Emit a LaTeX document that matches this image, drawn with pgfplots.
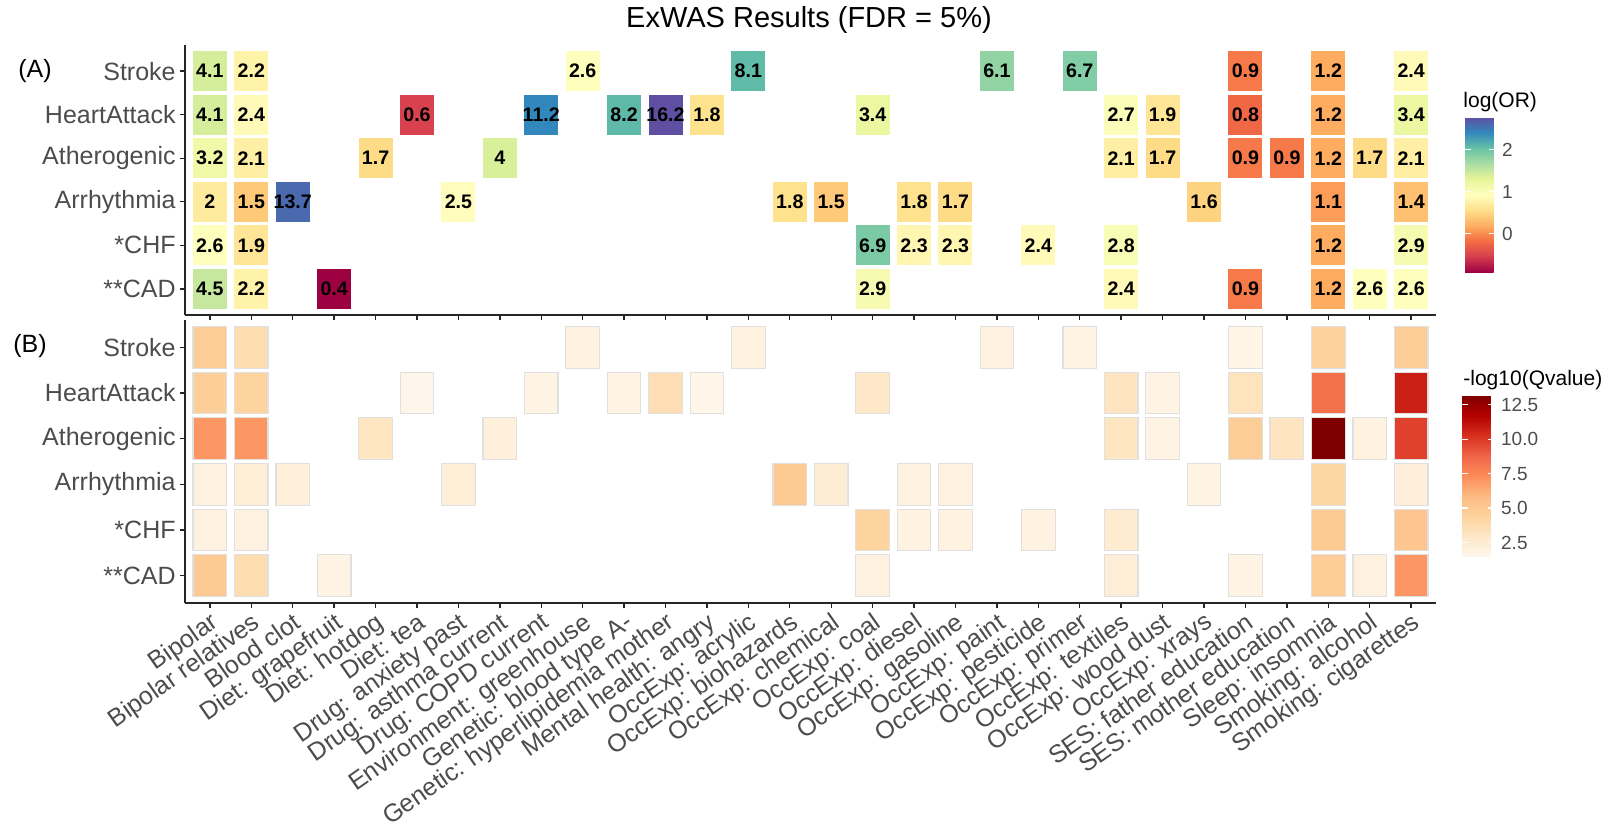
\documentclass[border=0pt]{standalone}
\usepackage{fontspec}
\setmainfont{Liberation Sans}
\usepackage{pgfplots}
\pgfplotsset{compat=1.18}
\usepackage{pgfplotstable}

\pgfdeclareplotmark{tileA}{\pgfpathrectangle{\pgfqpoint{-8.5pt}{-10pt}}{\pgfqpoint{17pt}{20pt}}\pgfusepath{fill}}
\pgfdeclareplotmark{tileB}{\pgfpathrectangle{\pgfqpoint{-8.4pt}{-10.4pt}}{\pgfqpoint{16.8pt}{20.8pt}}\pgfusepath{fill,stroke}}

\pgfplotsset{
  colormap={spec}{rgb255=(158,1,66) rgb255=(213,62,79) rgb255=(244,109,67) rgb255=(253,174,97) rgb255=(254,224,139) rgb255=(255,255,191) rgb255=(230,245,152) rgb255=(171,221,164) rgb255=(102,194,165) rgb255=(50,136,189) rgb255=(94,79,162)},
  colormap={orrd}{rgb255=(255,247,236) rgb255=(254,232,200) rgb255=(253,212,158) rgb255=(253,187,132) rgb255=(252,141,89) rgb255=(239,101,72) rgb255=(215,48,31) rgb255=(179,0,0) rgb255=(127,0,0)},
}

% Panel A: odds ratios (x = exposure index, y = outcome index; 0 = **CAD ... 5 = Stroke)
\pgfplotstableread{
x y or
0 5 4.1
1 5 2.2
9 5 2.6
13 5 8.1
19 5 6.1
21 5 6.7
25 5 0.9
27 5 1.2
29 5 2.4
0 4 4.1
1 4 2.4
5 4 0.6
8 4 11.2
10 4 8.2
11 4 16.2
12 4 1.8
16 4 3.4
22 4 2.7
23 4 1.9
25 4 0.8
27 4 1.2
29 4 3.4
0 3 3.2
1 3 2.1
4 3 1.7
7 3 4
22 3 2.1
23 3 1.7
25 3 0.9
26 3 0.9
27 3 1.2
28 3 1.7
29 3 2.1
0 2 2
1 2 1.5
2 2 13.7
6 2 2.5
14 2 1.8
15 2 1.5
17 2 1.8
18 2 1.7
24 2 1.6
27 2 1.1
29 2 1.4
0 1 2.6
1 1 1.9
16 1 6.9
17 1 2.3
18 1 2.3
20 1 2.4
22 1 2.8
27 1 1.2
29 1 2.9
0 0 4.5
1 0 2.2
3 0 0.4
16 0 2.9
22 0 2.4
25 0 0.9
27 0 1.2
28 0 2.6
29 0 2.6
}\dataA
\pgfplotstablecreatecol[create col/expr={ln(\thisrow{or})}]{lor}\dataA

% Panel B: -log10(Qvalue)
\pgfplotstableread{
x y q
0 5 4.8
1 5 3.8
9 5 1.9
13 5 1.9
19 5 1.9
21 5 1.8
25 5 1.7
27 5 4.5
29 5 4.8
0 4 4.7
1 4 4.4
5 4 1.5
8 4 1.8
10 4 1.8
11 4 3.6
12 4 1.6
16 4 2.9
22 4 3.2
23 4 1.8
25 4 3.3
27 4 8.4
29 4 10.8
0 3 7.0
1 3 7.0
4 3 3.1
7 3 2.1
22 3 3.1
23 3 1.8
25 3 4.8
26 3 3.2
27 3 13.2
28 3 1.9
29 3 9.8
0 2 2.0
1 2 2.3
2 2 2.1
6 2 2.3
14 2 5.0
15 2 2.4
17 2 2.0
18 2 2.0
24 2 1.8
27 2 4.2
29 2 2.2
0 1 2.0
1 1 2.0
16 1 4.4
17 1 1.9
18 1 1.9
20 1 1.9
22 1 2.6
27 1 5.0
29 1 5.2
0 0 5.0
1 0 3.8
3 0 1.8
16 0 2.0
22 0 2.3
25 0 1.8
27 0 4.8
28 0 2.0
29 0 7.0
}\dataB

\pgfplotsset{
  heatbase/.style={
    anchor=south west, scale only axis, width=625.5pt,
    xmin=-0.6, xmax=29.6, ymin=-0.6, ymax=5.6,
    axis lines*=left,
    axis line style={black!85, line width=1pt},
    tick align=outside, major tick length=2.5pt,
    tick style={black!85, line width=0.7pt},
    xtick={0,...,29}, ytick={0,...,5},
    yticklabels={{**CAD},{*CHF},{Arrhythmia},{Atherogenic},{HeartAttack},{Stroke}},
    yticklabel style={font=\fontsize{12.5}{14}\selectfont, text=black!70, inner sep=2pt},
    clip=false,
  },
  cbarbase/.style={
    scale only axis,
    /pgf/number format/assume math mode=true,
    axis line style={draw=none},
    tick style={draw=white, line width=0.6pt},
    major tick length=3pt, tick align=inside,
    yticklabel style={font=\fontsize{9.5}{11}\selectfont, text=black!70},
  },
}

\begin{document}
\begin{tikzpicture}
\useasboundingbox (0,0) rectangle (804pt,417.5pt);

\node[font=\fontsize{14.5}{17}\selectfont] at (404.5pt,407.5pt) {ExWAS Results (FDR = 5\%)};
\node[font=\fontsize{12.5}{14}\selectfont, anchor=west, inner sep=0pt] at (9pt,382pt) {(A)};
\node[font=\fontsize{12.5}{14}\selectfont, anchor=west, inner sep=0pt] at (6.5pt,244.5pt) {(B)};

\begin{axis}[heatbase,
  at={(92.5pt,260pt)}, height=135pt,
  xticklabel={\relax},
  colormap name=spec, point meta min=-0.9163, point meta max=2.785,
  colorbar,
  colorbar style={cbarbase,
    at={(parent axis.north east)}, anchor=north west, xshift=6pt, yshift=-36pt,
    width=15pt, height=77.5pt,
    ytick={0,1,2},
  },
]
\addplot[scatter, only marks, mark=tileA,
  scatter/use mapped color={draw=none, fill=mapped color},
  point meta=\thisrow{lor},
] table[x=x, y=y] {\dataA};
\addplot[only marks, mark=none,
  point meta=explicit symbolic,
  nodes near coords,
  nodes near coords align=center,
  every node near coord/.append style={font=\bfseries\fontsize{9.8}{11}\selectfont, text=black, inner sep=0pt},
] table[x=x, y=y, meta=or] {\dataA};
\end{axis}

\begin{axis}[heatbase,
  at={(92.5pt,116pt)}, height=141.5pt,
  xticklabels={{Bipolar},{Bipolar relatives},{Blood clot},{Diet: grapefruit},{Diet: hotdog},{Diet: tea},{Drug: anxiety past},{Drug: asthma current},{Drug: COPD current},{Environment: greenhouse},{Genetic: blood type A-},{Genetic: hyperlipidemia mother},{Mental health: angry},{OccExp: acrylic},{OccExp: biohazards},{OccExp: chemical},{OccExp: coal},{OccExp: diesel},{OccExp: gasoline},{OccExp: paint},{OccExp: pesticide},{OccExp: primer},{OccExp: textiles},{OccExp: wood dust},{OccExp: xrays},{SES: father education},{SES: mother education},{Sleep: insomnia},{Smoking: alcohol},{Smoking: cigarettes}},
  xticklabel style={rotate=35, anchor=north east, font=\fontsize{12.5}{14}\selectfont, text=black!70, inner sep=1pt},
  colormap name=orrd, point meta min=1.45, point meta max=13.2,
  colorbar,
  colorbar style={cbarbase,
    at={(parent axis.north east)}, anchor=north west, xshift=4.5pt, yshift=-37.5pt,
    width=16pt, height=81pt,
    ytick={2.5,5,7.5,10,12.5},
    yticklabel style={/pgf/number format/.cd, fixed, fixed zerofill, precision=1},
  },
]
\addplot[scatter, only marks, mark=tileB,
  scatter/use mapped color={draw=black!12, fill=mapped color},
  mark options={line width=0.6pt},
  point meta=\thisrow{q},
] table[x=x, y=y] {\dataB};
\end{axis}

\node[font=\fontsize{10.5}{12}\selectfont, anchor=west, inner sep=0pt] at (731.5pt,366.6pt) {log(OR)};
\node[font=\fontsize{10.5}{12}\selectfont, anchor=west, inner sep=0pt] at (731.5pt,227.5pt) {-log10(Qvalue)};
\end{tikzpicture}
\end{document}
